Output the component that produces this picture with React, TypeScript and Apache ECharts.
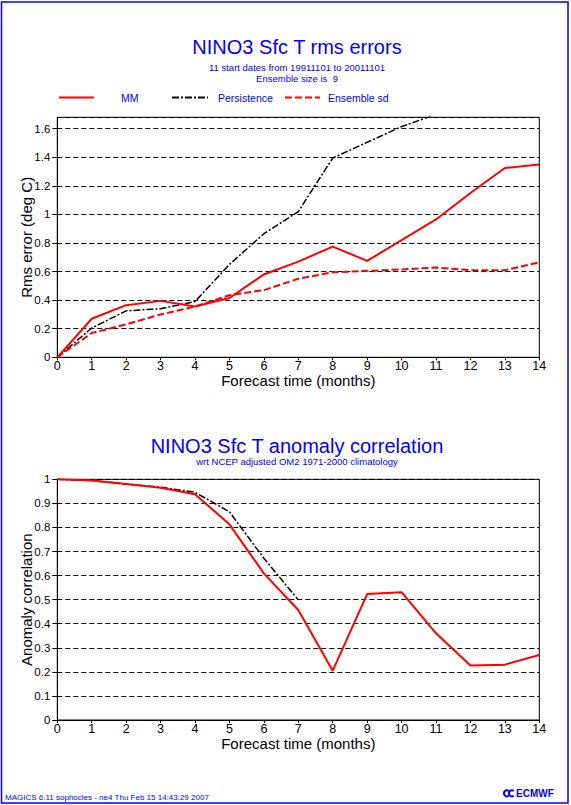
import React, { useEffect, useRef } from "react";
import * as echarts from "echarts";

const FONT = '"Liberation Sans", Arial, Helvetica, sans-serif';
const BLUE = "#0000ff";
const RED = "#ff0000";

// Forecast months (x tick labels)
const months = [0, 1, 2, 3, 4, 5, 6, 7, 8, 9, 10, 11, 12, 13, 14];

// Top panel: rms errors (deg C)
const rmsMM = [0, 0.27, 0.365, 0.395, 0.355, 0.415, 0.58, 0.67, 0.775, 0.675, 0.82, 0.965, 1.15, 1.325, 1.35];
const rmsPersistence = [0, 0.205, 0.325, 0.34, 0.39, 0.65, 0.865, 1.02, 1.395, 1.505, 1.615, 1.7];
const rmsEnsembleSd = [0, 0.17, 0.23, 0.3, 0.355, 0.435, 0.47, 0.55, 0.595, 0.605, 0.615, 0.628, 0.61, 0.61, 0.665];

// Bottom panel: anomaly correlation
const corrMM = [1.0, 0.995, 0.98, 0.965, 0.938, 0.813, 0.609, 0.457, 0.205, 0.523, 0.531, 0.36, 0.226, 0.23, 0.27];
const corrPersistence = [1.0, 0.995, 0.98, 0.967, 0.946, 0.865, 0.672, 0.499];

const pairs = (vals: number[]) => vals.map((v, i) => [months[i], v]);

const persistenceDash = [7, 2, 2, 2];
const sdDash = [7, 3];

export default function App() {
  const ref = useRef<HTMLDivElement>(null);
  useEffect(() => {
    if (!ref.current) return;
    const chart = echarts.init(ref.current, null, { renderer: "svg" });

    const titleStyle = (size: number) => ({
      fontSize: size,
      fontWeight: "normal" as const,
      color: BLUE,
      fontFamily: FONT,
    });

    const xAxisCommon = {
      type: "value" as const,
      min: 0,
      max: 14,
      interval: 1,
      name: "Forecast time (months)",
      nameLocation: "middle" as const,
      nameGap: 16,
      nameMoveOverlap: false,
      nameTextStyle: { fontSize: 15, color: "#000", fontFamily: FONT },
      axisLine: { show: true, lineStyle: { color: "#000", width: 1 } },
      axisTick: { show: true, length: 3, lineStyle: { color: "#000" } },
      axisLabel: { margin: 2, fontSize: 12.5, color: "#000", fontFamily: FONT },
      splitLine: { show: false },
    };

    const yAxisCommon = {
      type: "value" as const,
      nameLocation: "middle" as const,
      nameGap: 23,
      nameMoveOverlap: false,
      nameTextStyle: { fontSize: 15, color: "#000", fontFamily: FONT },
      axisLine: { show: true, lineStyle: { color: "#000", width: 1 } },
      axisTick: { show: true, length: 5, lineStyle: { color: "#000" } },
      splitLine: { show: true, lineStyle: { color: "#000", width: 1, type: [5, 3] } },
    };

    const legendCommon = {
      orient: "horizontal" as const,
      top: 92,
      itemHeight: 14,
      selectedMode: false,
      padding: 0,
      itemStyle: { opacity: 0, color: "transparent", borderWidth: 0 },
    };

    chart.setOption({
      animation: false,
      backgroundColor: "#ffffff",
      title: [
        { text: "NINO3 Sfc T rms errors", left: 297, top: 37, textAlign: "center", padding: 0, textStyle: titleStyle(20) },
        { text: "11 start dates from 19911101 to 20011101", left: 297, top: 62, textAlign: "center", padding: 0, textStyle: titleStyle(9.5) },
        { text: "Ensemble size is  9", left: 297, top: 73, textAlign: "center", padding: 0, textStyle: titleStyle(9.5) },
        { text: "NINO3 Sfc T anomaly correlation", left: 297, top: 435.5, textAlign: "center", padding: 0, textStyle: titleStyle(20) },
        { text: "wrt NCEP adjusted OM2 1971-2000 climatology", left: 297, top: 456.5, textAlign: "center", padding: 0, textStyle: titleStyle(9.5) },
        { text: "MAGICS 6.11 sophocles - ne4 Thu Feb 15 14:43:29 2007", left: 5, top: 793, padding: 0, textStyle: titleStyle(8) },
      ],
      legend: [
        { ...legendCommon, left: 58, itemWidth: 35, data: ["MM"], textStyle: { color: BLUE, fontSize: 10.5, fontFamily: FONT, padding: [0, 0, 0, 22] } },
        { ...legendCommon, left: 171, itemWidth: 36, data: ["Persistence"], textStyle: { color: BLUE, fontSize: 10.5, fontFamily: FONT, padding: [0, 0, 0, 5] } },
        { ...legendCommon, left: 284, itemWidth: 35, data: ["Ensemble sd"], textStyle: { color: BLUE, fontSize: 10.5, fontFamily: FONT, padding: [0, 0, 0, 3] } },
      ],
      grid: [
        { left: 57.3, right: 31.7, top: 117.3, height: 240, show: true, borderColor: "#000", borderWidth: 1, backgroundColor: "transparent" },
        { left: 57.3, right: 31.7, top: 479.3, height: 240.7, show: true, borderColor: "#000", borderWidth: 1, backgroundColor: "transparent" },
      ],
      xAxis: [
        { ...xAxisCommon, gridIndex: 0 },
        { ...xAxisCommon, gridIndex: 1 },
      ],
      yAxis: [
        {
          ...yAxisCommon,
          gridIndex: 0,
          min: 0,
          max: 1.68,
          interval: 0.2,
          name: "Rms error (deg C)",
          axisLabel: { margin: 7, fontSize: 11.5, color: "#000", fontFamily: FONT, showMaxLabel: false },
        },
        {
          ...yAxisCommon,
          gridIndex: 1,
          min: 0,
          max: 1,
          interval: 0.1,
          name: "Anomaly correlation",
          axisLabel: { margin: 7, fontSize: 11.5, color: "#000", fontFamily: FONT },
        },
      ],
      series: [
        {
          name: "MM", type: "line", xAxisIndex: 0, yAxisIndex: 0, symbol: "none", clip: true,
          data: pairs(rmsMM), lineStyle: { color: RED, width: 2 }, itemStyle: { color: RED }, z: 4,
        },
        {
          name: "Persistence", type: "line", xAxisIndex: 0, yAxisIndex: 0, symbol: "none", clip: true,
          data: pairs(rmsPersistence), lineStyle: { color: "#000", width: 1.5, type: persistenceDash }, itemStyle: { color: "#000" }, z: 3,
        },
        {
          name: "Ensemble sd", type: "line", xAxisIndex: 0, yAxisIndex: 0, symbol: "none", clip: true,
          data: pairs(rmsEnsembleSd), lineStyle: { color: RED, width: 2, type: sdDash }, itemStyle: { color: RED }, z: 3,
        },
        {
          name: "Persistence", type: "line", xAxisIndex: 1, yAxisIndex: 1, symbol: "none", clip: true,
          data: pairs(corrPersistence), lineStyle: { color: "#000", width: 1.5, type: persistenceDash }, itemStyle: { color: "#000" }, z: 3,
        },
        {
          name: "MM", type: "line", xAxisIndex: 1, yAxisIndex: 1, symbol: "none", clip: true,
          data: pairs(corrMM), lineStyle: { color: RED, width: 2 }, itemStyle: { color: RED }, z: 4,
        },
      ],
      graphic: [
        {
          type: "rect", silent: true, z: 100,
          shape: { x: 1.5, y: 2, width: 566.5, height: 801 },
          style: { fill: "none", stroke: BLUE, lineWidth: 1.5 },
        },
        {
          type: "arc", silent: true,
          shape: { cx: 507, cy: 793.3, r: 3, startAngle: Math.PI * 0.3, endAngle: Math.PI * 1.7, clockwise: true },
          style: { fill: "none", stroke: BLUE, lineWidth: 2 },
        },
        {
          type: "arc", silent: true,
          shape: { cx: 512, cy: 793.3, r: 3, startAngle: Math.PI * 0.3, endAngle: Math.PI * 1.7, clockwise: true },
          style: { fill: "none", stroke: BLUE, lineWidth: 2 },
        },
        {
          type: "text", silent: true, left: 516, top: 788,
          style: { text: "ECMWF", fill: BLUE, fontSize: 10, fontWeight: "bold", fontFamily: FONT },
        },
      ],
    });

    return () => chart.dispose();
  }, []);

  return (
    <div
      ref={ref}
      style={{ position: "fixed", left: 0, top: 0, width: 571, height: 805, background: "#fff" }}
    />
  );
}
